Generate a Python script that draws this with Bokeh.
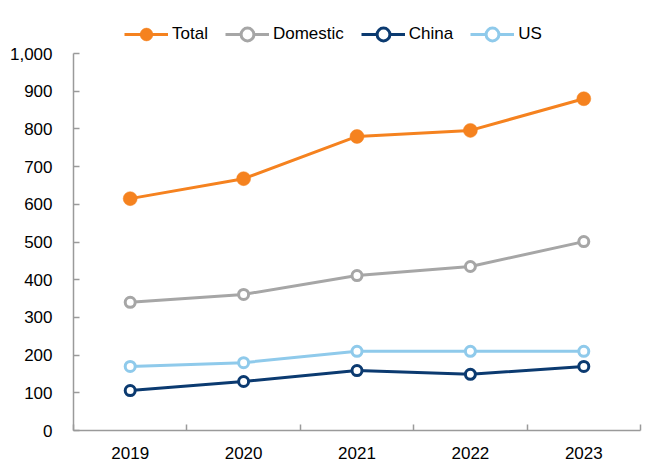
from bokeh.plotting import figure
from bokeh.models import Range1d, FixedTicker, NumeralTickFormatter, Legend, LegendItem
from bokeh.embed import file_html
from bokeh.resources import INLINE

years = ["2019", "2020", "2021", "2022", "2023"]
total = [615, 668, 780, 796, 880]
domestic = [340, 361, 411, 435, 501]
china = [106, 130, 159, 149, 170]
us = [170, 180, 210, 210, 210]
y_ticks = [0, 100, 200, 300, 400, 500, 600, 700, 800, 900, 1000]

FONT = "Liberation Sans"
FS = "17px"
AXIS_COL = "#9A9A9A"
x = [i + 0.5 for i in range(len(years))]

# frame: top 20px, bottom at 37px from edge; 1000 sits at 53px from top
y_top = 1000 * 410 / 377

p = figure(width=650, height=467, output_backend="svg", toolbar_location=None,
           x_range=Range1d(0, len(years)), y_range=Range1d(0, y_top),
           min_border_left=73, min_border_right=10, min_border_bottom=37, min_border_top=20)
p.outline_line_color = None
p.xgrid.visible = False
p.ygrid.visible = False

series = [
    ("Total", total, "#F5821F", "#F5821F"),
    ("Domestic", domestic, "#A6A6A6", "white"),
    ("China", china, "#0B3A70", "white"),
    ("US", us, "#8FCAEB", "white"),
]
items = []
for name, vals, col, fill in series:
    l = p.line(x, vals, line_color=col, line_width=3)
    if name == "Total":
        c = p.scatter(x, vals, size=14, fill_color=col, line_color=col, line_width=0.5)
    else:
        c = p.scatter(x, vals, size=10, fill_color=fill, line_color=col, line_width=3)
    items.append(LegendItem(label=name, renderers=[l, c]))

ax = p.xaxis[0]
ax.ticker = FixedTicker(ticks=x, minor_ticks=list(range(len(years) + 1)))
ax.major_label_overrides = {float(xx): y for xx, y in zip(x, years)}
ax.major_tick_in = 0
ax.major_tick_out = 0
ax.minor_tick_in = 6
ax.minor_tick_out = 0
ax.minor_tick_line_color = AXIS_COL
ax.minor_tick_line_width = 1.5
ax.axis_line_color = AXIS_COL
ax.axis_line_width = 1.5
ax.major_label_standoff = 16
ax.major_label_text_font = FONT
ax.major_label_text_font_size = FS
ax.major_label_text_color = "black"

ay = p.yaxis[0]
ay.ticker = FixedTicker(ticks=y_ticks)
ay.bounds = (0, 1000)
ay.formatter = NumeralTickFormatter(format="0,0")
ay.major_tick_in = 6
ay.major_tick_out = 0
ay.minor_tick_in = 0
ay.minor_tick_out = 0
ay.major_tick_line_color = AXIS_COL
ay.major_tick_line_width = 1.5
ay.axis_line_color = AXIS_COL
ay.axis_line_width = 1.5
ay.major_label_standoff = 21
ay.major_label_text_font = FONT
ay.major_label_text_font_size = FS
ay.major_label_text_color = "black"

legend = Legend(items=items, orientation="horizontal", location=(51, 380),
                label_text_font=FONT, label_text_font_size=FS, label_height=19,
                glyph_width=44, glyph_height=32, label_standoff=4, spacing=17,
                padding=0, margin=0, border_line_alpha=0, background_fill_alpha=0,
                label_text_color="black")
p.add_layout(legend)

open("out.html", "w").write(file_html(p, INLINE))
